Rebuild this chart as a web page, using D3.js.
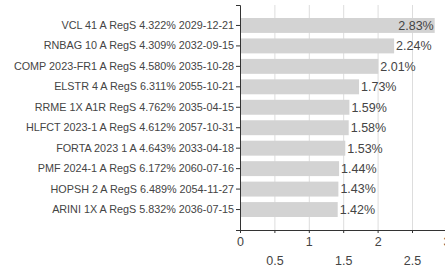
<!DOCTYPE html>
<style>
body { margin: 0; background: #fff; }
svg { font-family: "Liberation Sans", Arial, sans-serif; }
.grid line { stroke: #ddd; }
.axis text { fill: #444; }
.axis path, .axis line { stroke: #333; }
</style>
<svg width="445" height="269"></svg>
<script src="https://d3js.org/d3.v7.min.js"></script>
<script>

var names = [
  "VCL 41 A RegS 4.322% 2029-12-21",
  "RNBAG 10 A RegS 4.309% 2032-09-15",
  "COMP 2023-FR1 A RegS 4.580% 2035-10-28",
  "ELSTR 4 A RegS 6.311% 2055-10-21",
  "RRME 1X A1R RegS 4.762% 2035-04-15",
  "HLFCT 2023-1 A RegS 4.612% 2057-10-31",
  "FORTA 2023 1 A 4.643% 2033-04-18",
  "PMF 2024-1 A RegS 6.172% 2060-07-16",
  "HOPSH 2 A RegS 6.489% 2054-11-27",
  "ARINI 1X A RegS 5.832% 2036-07-15"
];
var weights = [2.83, 2.24, 2.01, 1.73, 1.59, 1.58, 1.53, 1.44, 1.43, 1.42];
var xTicks = [0, 0.5, 1, 1.5, 2, 2.5, 3];

var svg = d3.select("svg"),
    margin = {top: 5, left: 240},
    plotW = 206.4,
    plotH = 225;

var g = svg.append("g").attr("transform", "translate(" + margin.left + "," + margin.top + ")");

var x = d3.scaleLinear().domain([0, 3]).range([0, plotW]);
var y = d3.scaleBand().domain(names).range([0, plotH])
    .paddingInner(0.27).paddingOuter(0.635);

// vertical grid
g.append("g").attr("class", "grid")
  .selectAll("line")
  .data(xTicks.filter(function(d) { return d > 0; }))
  .enter().append("line")
    .attr("x1", function(d) { return x(d) + 0.5; })
    .attr("x2", function(d) { return x(d) + 0.5; })
    .attr("y1", 0)
    .attr("y2", plotH);

g.selectAll(".bar")
  .data(weights)
  .enter().append("rect")
    .attr("class", "bar")
    .attr("x", 1)
    .attr("y", function(d, i) { return y(names[i]); })
    .attr("width", function(d) { return x(d) - 1; })
    .attr("height", y.bandwidth())
    .attr("fill", "#d3d3d3");

var labels = g.selectAll(".val")
  .data(weights)
  .enter().append("text")
    .attr("class", "val")
    .attr("x", function(d) { return x(d) + 2; })
    .attr("y", function(d, i) { return y(names[i]) + y.bandwidth() / 2; })
    .attr("dy", "0.35em")
    .attr("fill", "#444")
    .style("font-size", "12.5px")
    .text(function(d) { return d.toFixed(2) + "%"; });

// flip labels that would run past the edge
labels.each(function(d) {
  var t = d3.select(this);
  if (x(d) + 2 + this.getComputedTextLength() > 445 - margin.left) {
    t.attr("x", x(d) - 1).attr("text-anchor", "end");
  }
});

var yAxis = g.append("g").attr("class", "axis")
    .call(d3.axisLeft(y).tickSize(4).tickSizeOuter(4));
yAxis.selectAll("text").style("font-size", "10.8px").attr("x", -6);

var xAxis = g.append("g").attr("class", "axis")
    .attr("transform", "translate(0," + plotH + ")")
    .call(d3.axisBottom(x).tickValues(xTicks).tickSize(3).tickSizeOuter(3).tickFormat(d3.format("")));
xAxis.selectAll("text")
    .style("font-size", "12.5px")
    .attr("y", function(d) { return Number.isInteger(d) ? 7 : 26; });

</script>
